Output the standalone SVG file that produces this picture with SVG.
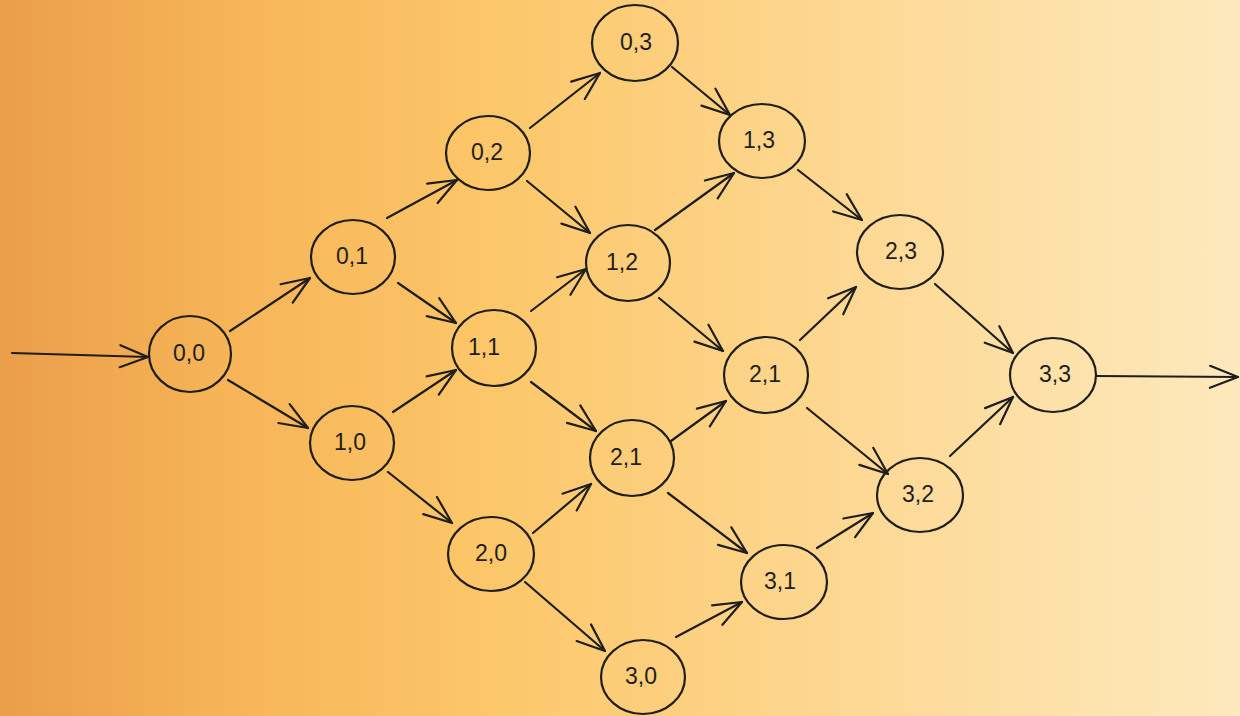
<svg xmlns="http://www.w3.org/2000/svg" width="1240" height="716" viewBox="0 0 1240 716">
<defs>
<linearGradient id="bg" x1="0" y1="0" x2="1" y2="0">
<stop offset="0" stop-color="#eb9e4a"/>
<stop offset="0.18" stop-color="#f6b457"/>
<stop offset="0.4" stop-color="#fcc76a"/>
<stop offset="0.7" stop-color="#fdd995"/>
<stop offset="1" stop-color="#fde9bd"/>
</linearGradient>
<marker id="ah" markerUnits="userSpaceOnUse" orient="auto" overflow="visible" refX="0" refY="0" markerWidth="1" markerHeight="1">
<path d="M-28,-11 L0,0 L-28,11" fill="none" stroke="#1e1e1e" stroke-width="2.2" stroke-linecap="round" stroke-linejoin="round"/>
</marker>
<style>
.n ellipse{fill:none;stroke:#1e1e1e;stroke-width:2.2}
.n text{font-family:"Liberation Sans",Arial,sans-serif;font-size:23px;fill:#1e1e1e;text-anchor:middle}
#edges line{stroke:#1e1e1e;stroke-width:2.2;stroke-linecap:round;marker-end:url(#ah)}
</style>
</defs>
<rect x="0" y="0" width="1240" height="716" fill="url(#bg)"/>
<g id="edges">
<line x1="12" y1="353" x2="148" y2="357"/>
<line x1="230" y1="331" x2="310" y2="278"/>
<line x1="228" y1="380" x2="308" y2="428"/>
<line x1="387" y1="218" x2="457" y2="180"/>
<line x1="398" y1="283" x2="456" y2="323"/>
<line x1="393" y1="412" x2="456" y2="370"/>
<line x1="388" y1="472" x2="452" y2="523"/>
<line x1="530" y1="128" x2="600" y2="73"/>
<line x1="527" y1="181" x2="590" y2="233"/>
<line x1="531" y1="311" x2="586" y2="269"/>
<line x1="531" y1="382" x2="596" y2="431"/>
<line x1="533" y1="533" x2="591" y2="484"/>
<line x1="525" y1="582" x2="605" y2="651"/>
<line x1="672" y1="67" x2="730" y2="115"/>
<line x1="655" y1="230" x2="734" y2="173"/>
<line x1="659" y1="298" x2="723" y2="351"/>
<line x1="671" y1="441" x2="726" y2="401"/>
<line x1="668" y1="493" x2="747" y2="553"/>
<line x1="676" y1="637" x2="742" y2="602"/>
<line x1="798" y1="170" x2="862" y2="220"/>
<line x1="800" y1="340" x2="856" y2="287"/>
<line x1="807" y1="408" x2="888" y2="474"/>
<line x1="817" y1="548" x2="873" y2="513"/>
<line x1="935" y1="284" x2="1013" y2="353"/>
<line x1="950" y1="456" x2="1013" y2="397"/>
<line x1="1096" y1="376" x2="1238" y2="377"/>
</g>
<g id="n00" class="n"><ellipse cx="190" cy="354" rx="41" ry="38"/><text x="189" y="361">0,0</text></g>
<g id="n01" class="n"><ellipse cx="353" cy="257" rx="42" ry="37"/><text x="352" y="264">0,1</text></g>
<g id="n10" class="n"><ellipse cx="352" cy="443" rx="42" ry="37"/><text x="350" y="450">1,0</text></g>
<g id="n02" class="n"><ellipse cx="488" cy="153" rx="42" ry="37"/><text x="487" y="160">0,2</text></g>
<g id="n11" class="n"><ellipse cx="494" cy="348" rx="42" ry="38"/><text x="484" y="355">1,1</text></g>
<g id="n20" class="n"><ellipse cx="491" cy="554" rx="43" ry="37"/><text x="491" y="561">2,0</text></g>
<g id="n03" class="n"><ellipse cx="635" cy="43" rx="43" ry="38"/><text x="636" y="50">0,3</text></g>
<g id="n12" class="n"><ellipse cx="628" cy="263" rx="42" ry="38"/><text x="622" y="270">1,2</text></g>
<g id="n21a" class="n"><ellipse cx="632" cy="458" rx="42" ry="38"/><text x="626" y="465">2,1</text></g>
<g id="n30" class="n"><ellipse cx="643" cy="677" rx="42" ry="37"/><text x="641" y="684">3,0</text></g>
<g id="n13" class="n"><ellipse cx="762" cy="141" rx="43" ry="37"/><text x="759" y="148">1,3</text></g>
<g id="n21b" class="n"><ellipse cx="766" cy="375" rx="42" ry="38"/><text x="765" y="382">2,1</text></g>
<g id="n31" class="n"><ellipse cx="784" cy="582" rx="43" ry="37"/><text x="780" y="589">3,1</text></g>
<g id="n23" class="n"><ellipse cx="900" cy="252" rx="43" ry="37"/><text x="901" y="259">2,3</text></g>
<g id="n32" class="n"><ellipse cx="920" cy="495" rx="43" ry="37"/><text x="918" y="502">3,2</text></g>
<g id="n33" class="n"><ellipse cx="1053" cy="375" rx="43" ry="37"/><text x="1055" y="382">3,3</text></g>
</svg>
